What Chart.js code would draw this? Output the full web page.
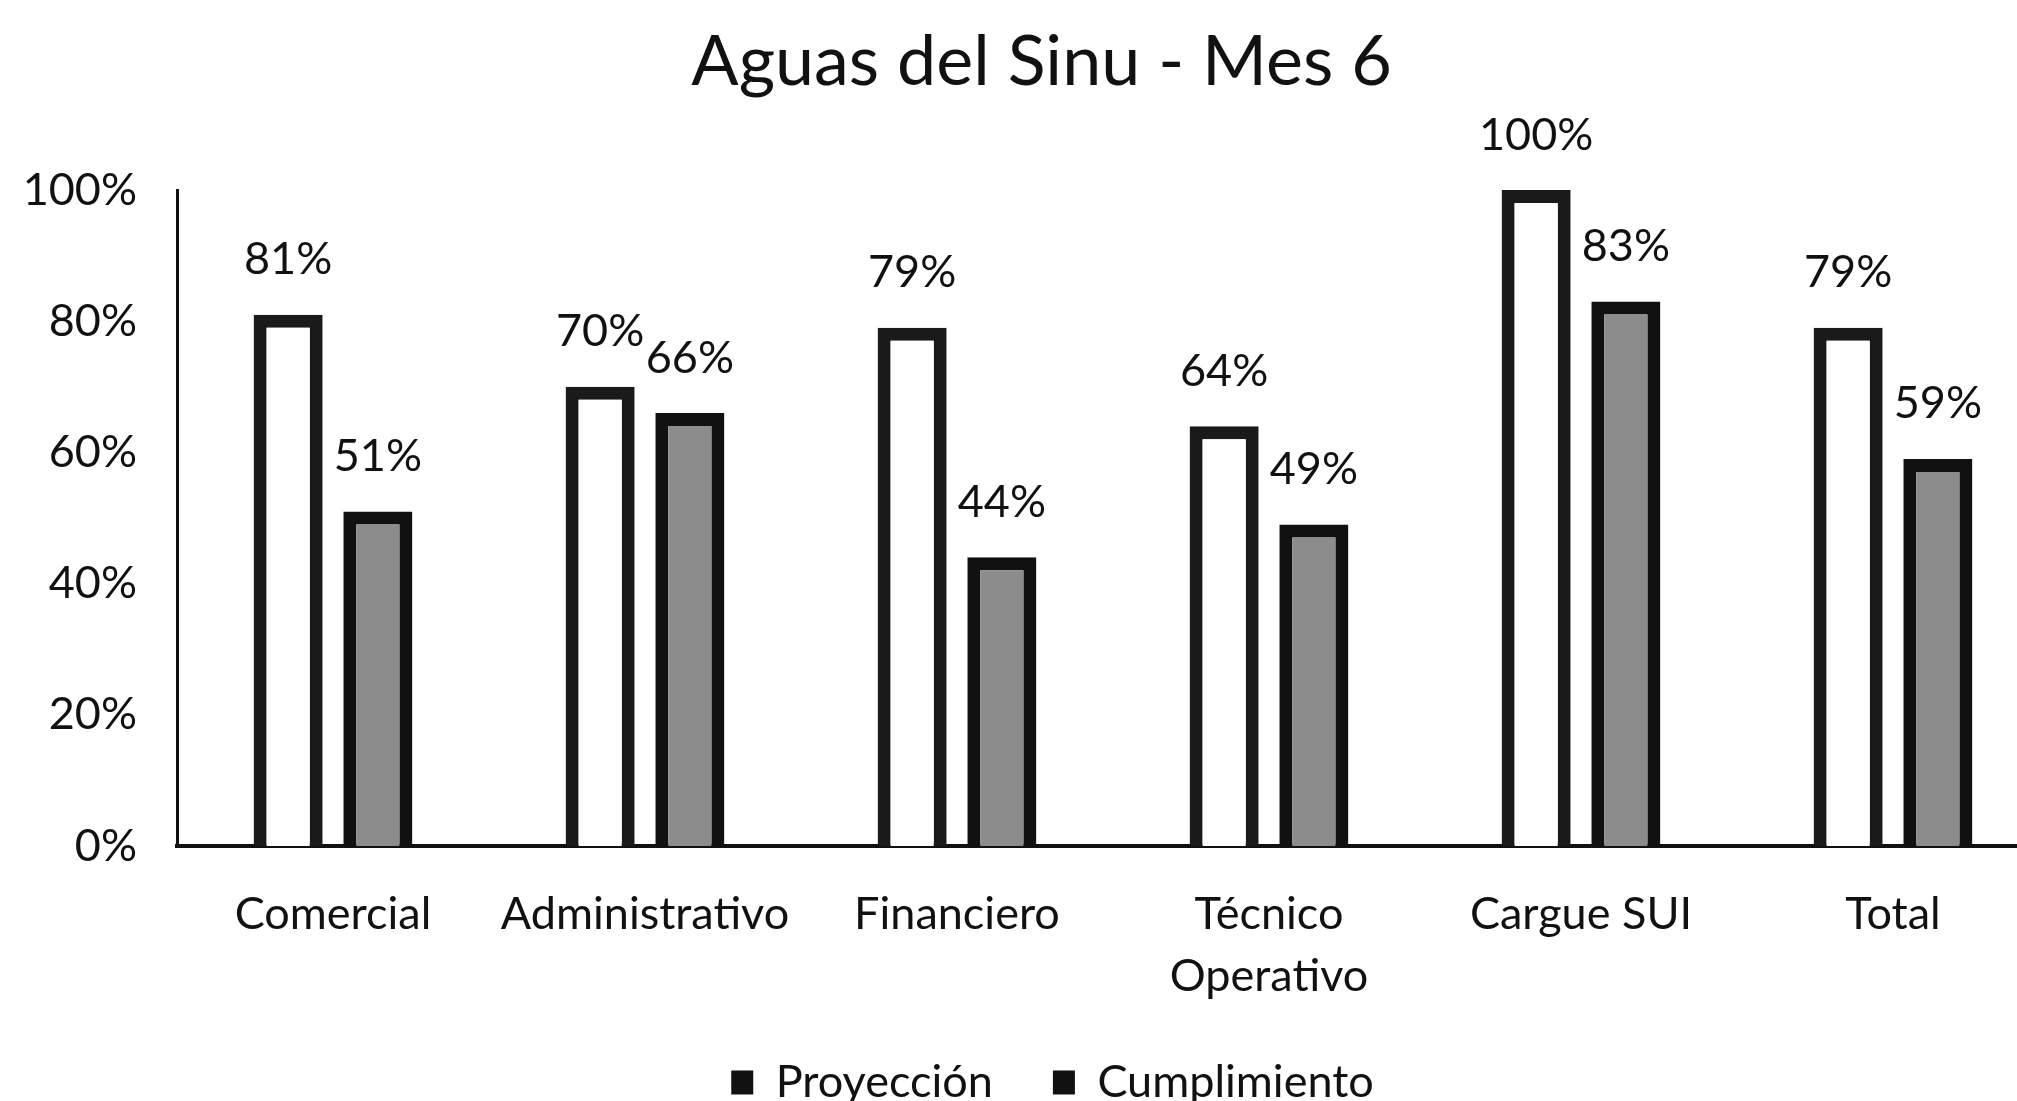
<!DOCTYPE html>
<html>
<head>
<meta charset="utf-8">
<script src="https://cdn.jsdelivr.net/npm/chart.js@4"></script>
<style>
html, body { margin: 0; padding: 0; background: #fff; overflow: hidden; }
</style>
</head>
<body>
<canvas id="chart" width="2052" height="1101"></canvas>
<script>
/* globals Chart: false */

// data
var categories = ['Comercial', 'Administrativo', 'Financiero', ['Técnico', 'Operativo'], 'Cargue SUI', 'Total'];
var proyeccion = [81, 70, 79, 64, 100, 79];
var cumplimiento = [51, 66, 44, 49, 83, 59];
var seriesNames = ['Proyección', 'Cumplimiento'];
var yTicks = [0, 20, 40, 60, 80, 100];

var FONT = "Lato, 'Open Sans', sans-serif";
var INK = '#111';

// percentage above each bar
var valueLabels = {
    id: 'valueLabels',
    afterDatasetsDraw: function(chart) {
        var ctx = chart.ctx;
        ctx.save();
        ctx.font = '45px ' + FONT;
        ctx.fillStyle = INK;
        ctx.textAlign = 'center';
        ctx.textBaseline = 'middle';
        chart.data.datasets.forEach(function(ds, i) {
            chart.getDatasetMeta(i).data.forEach(function(bar, j) {
                ctx.fillText(ds.data[j] + '%', bar.x, bar.y - 55);
            });
        });
        ctx.restore();
    }
};

// nudge title and legend to where they sit in the original
var placeBoxes = {
    id: 'placeBoxes',
    afterLayout: function(chart) {
        var lg = chart.legend;
        lg.left += 28;
        lg.right += 28;
        lg.top = 1000;
        lg.bottom = lg.top + lg.height;
        var tb = chart.titleBlock;
        tb.left += 17;
        tb.right += 17;
    }
};

var config = {
    type: 'bar',
    data: {
        labels: categories,
        datasets: [
            {
                label: seriesNames[0],
                data: proyeccion,
                backgroundColor: '#ffffff',
                borderColor: '#1a1a1a',
                borderWidth: 13
            },
            {
                label: seriesNames[1],
                data: cumplimiento,
                backgroundColor: '#8c8c8c',
                borderColor: '#111111',
                borderWidth: 13
            }
        ]
    },
    options: {
        responsive: false,
        animation: false,
        devicePixelRatio: 1,
        // bottom padding below zero: legend gets placed by hand, plot must end at y=846
        layout: { padding: { left: 0, right: 3, top: 0, bottom: -60 } },
        datasets: {
            bar: { categoryPercentage: 0.575, barPercentage: 0.77 }
        },
        scales: {
            x: {
                grid: { display: false, drawTicks: false },
                border: { display: true, color: INK, width: 4 },
                ticks: {
                    color: INK,
                    padding: 37,
                    maxRotation: 0,
                    autoSkip: false,
                    font: { family: FONT, size: 45, lineHeight: 1.38 }
                },
                afterFit: function(scale) { scale.height = 200; }
            },
            y: {
                min: 0,
                max: 100,
                grid: { display: false, drawTicks: false },
                border: { display: true, color: INK, width: 3 },
                afterBuildTicks: function(scale) {
                    scale.ticks = yTicks.map(function(v) { return { value: v }; });
                },
                ticks: {
                    color: INK,
                    padding: 40,
                    font: { family: FONT, size: 45 },
                    callback: function(v) { return v + '%'; }
                },
                afterFit: function(scale) { scale.width = 177; }
            }
        },
        plugins: {
            title: {
                display: true,
                text: 'Aguas del Sinu - Mes 6',
                color: INK,
                font: { family: FONT, size: 70, weight: 'normal', lineHeight: 1.2 },
                padding: { top: 20, bottom: 86 }
            },
            legend: {
                display: true,
                position: 'bottom',
                labels: {
                    color: INK,
                    boxWidth: 22,
                    boxHeight: 24,
                    padding: 60,
                    font: { family: FONT, size: 45 },
                    generateLabels: function(chart) {
                        var items = Chart.defaults.plugins.legend.labels.generateLabels(chart);
                        items.forEach(function(it) {
                            it.fillStyle = INK;
                            it.strokeStyle = INK;
                            it.lineWidth = 0;
                        });
                        return items;
                    }
                }
            },
            tooltip: { enabled: false }
        }
    },
    plugins: [valueLabels, placeBoxes]
};

var ctx = document.getElementById('chart').getContext('2d');
var chart = new Chart(ctx, config);
</script>
</body>
</html>
